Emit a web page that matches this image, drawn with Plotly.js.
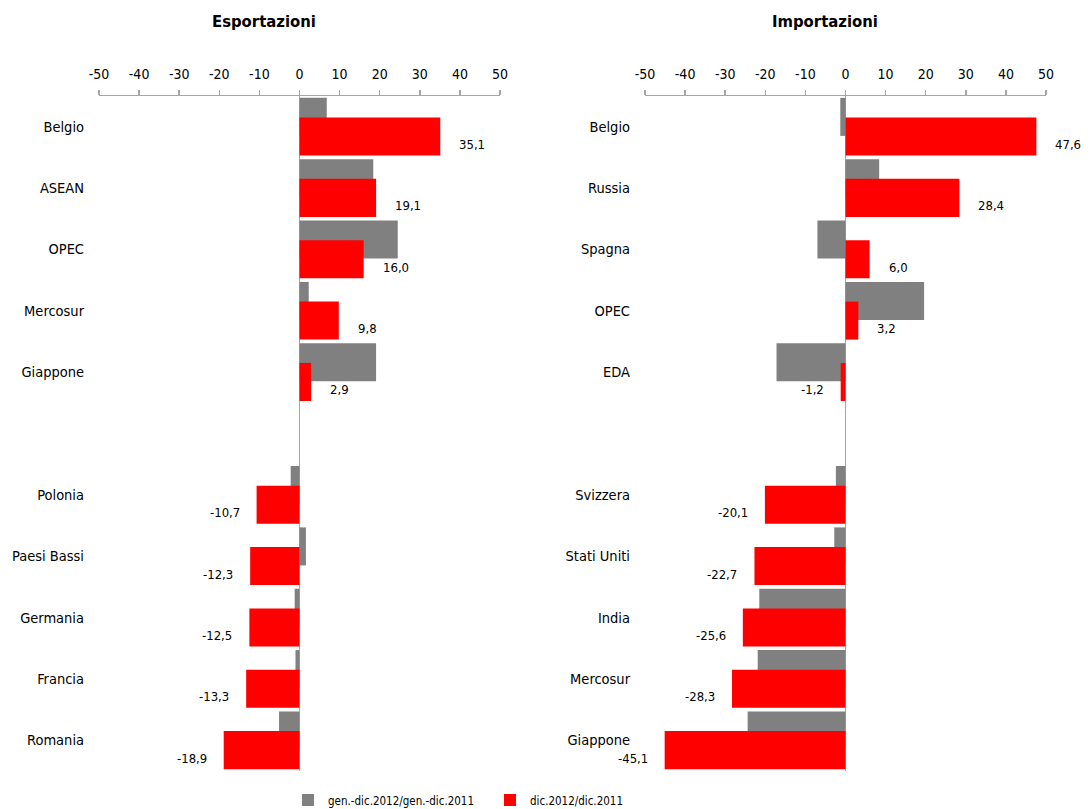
<!DOCTYPE html>
<html><head><meta charset="utf-8">
<script src="https://cdn.plot.ly/plotly-3.0.1.min.js"></script>
<style>html,body{margin:0;padding:0;background:#fff}#chart{width:1092px;height:809px}</style>
</head><body><div id="chart"></div>
<script>
// ---- data ----
const exportTop = ["Belgio", "ASEAN", "OPEC", "Mercosur", "Giappone"];
const exportBottom = ["Polonia", "Paesi Bassi", "Germania", "Francia", "Romania"];
const exportAnnual = [6.8, 18.4, 24.5, 2.3, 19.1, -2.2, 1.6, -1.2, -1.0, -5.1];
const exportDec = [35.1, 19.1, 16.0, 9.8, 2.9, -10.7, -12.3, -12.5, -13.3, -18.9];

const importTop = ["Belgio", "Russia", "Spagna", "OPEC", "EDA"];
const importBottom = ["Svizzera", "Stati Uniti", "India", "Mercosur", "Giappone"];
const importAnnual = [-1.3, 8.4, -7.0, 19.6, -17.2, -2.4, -2.8, -21.5, -21.9, -24.4];
const importDec = [47.6, 28.4, 6.0, 3.2, -1.2, -20.1, -22.7, -25.6, -28.3, -45.1];

const seriesNames = ["gen.-dic.2012/gen.-dic.2011", "dic.2012/dic.2011"];
const panelTitles = ["Esportazioni", "Importazioni"];
const xTicks = [-50, -40, -30, -20, -10, 0, 10, 20, 30, 40, 50];

// ---- build ----
const W = 1092, H = 809;
const FONT = "'Liberation Sans Narrow', 'Arial Narrow', 'DejaVu Sans Condensed', sans-serif";
const GREY = "#808080", RED = "#ff0000", AXIS = "#a6a6a6";

function slots(top, bottom) {
  // top group, one empty slot, bottom group
  return top.map((_, i) => i).concat(bottom.map((_, i) => top.length + 1 + i));
}
const fmt = v => v.toFixed(1).replace(".", ",");

const panels = [
  {top: exportTop, bottom: exportBottom, annual: exportAnnual, dec: exportDec, title: panelTitles[0],
   dom: [99 / W, 500 / W], titleX: 264 / W},
  {top: importTop, bottom: importBottom, annual: importAnnual, dec: importDec, title: panelTitles[1],
   dom: [645 / W, 1046 / W], titleX: 825 / W}
];

const traces = [];
const annotations = [];
const layout = {
  width: W, height: H,
  margin: {l: 0, r: 0, t: 0, b: 0, autoexpand: false},
  paper_bgcolor: "#fff", plot_bgcolor: "#fff",
  barmode: "overlay",
  font: {family: FONT, size: 14, color: "#000"},
  showlegend: true,
  legend: {orientation: "h", x: 288 / W, xanchor: "left", y: 1 - 800 / H, yanchor: "middle",
           font: {family: FONT, size: 11.5, color: "#000"}, entrywidth: 157, entrywidthmode: "pixels",
           bgcolor: "rgba(0,0,0,0)", traceorder: "normal", itemclick: false, itemdoubleclick: false},
  hovermode: false,
  annotations: annotations
};

panels.forEach((p, k) => {
  const xa = k === 0 ? "x" : "x2", ya = k === 0 ? "y" : "y2";
  const pos = slots(p.top, p.bottom);
  const labels = p.top.concat(p.bottom);
  traces.push({
    type: "bar", orientation: "h", x: p.annual, y: pos, xaxis: xa, yaxis: ya,
    width: 0.62, offset: -0.47, name: seriesNames[0], legendgroup: "a", showlegend: k === 0,
    marker: {color: GREY, line: {width: 0}}
  });
  traces.push({
    type: "bar", orientation: "h", x: p.dec, y: pos, xaxis: xa, yaxis: ya,
    width: 0.62, offset: -0.15, name: seriesNames[1], legendgroup: "b", showlegend: k === 0,
    marker: {color: RED, line: {width: 0}}
  });
  const xKey = k === 0 ? "xaxis" : "xaxis2", yKey = k === 0 ? "yaxis" : "yaxis2";
  layout[xKey] = {
    domain: p.dom, range: [-50, 50], side: "top", anchor: ya,
    tickmode: "array", tickvals: xTicks, ticktext: xTicks.map(String),
    showline: true, linecolor: AXIS, linewidth: 1.5,
    ticks: "outside", ticklen: 5, tickcolor: AXIS, tickwidth: 1.5,
    showgrid: false, zeroline: true, zerolinecolor: AXIS, zerolinewidth: 1.5,
    tickfont: {family: FONT, size: 14, color: "#000"}, ticklabelstandoff: 5,
    fixedrange: true, automargin: false
  };
  layout[yKey] = {
    domain: [1 - 771 / H, 1 - 96 / H], range: [pos[pos.length - 1] + 0.5, -0.5], anchor: xa,
    tickmode: "array", tickvals: pos, ticktext: labels,
    showline: false, showgrid: false, zeroline: false, ticks: "", ticklabelstandoff: 14,
    tickfont: {family: FONT, size: 14.5, color: "#000"}, fixedrange: true, automargin: false
  };
  annotations.push({
    xref: "paper", yref: "paper", x: p.titleX, y: 1 - 22 / H, xanchor: "center", yanchor: "middle",
    text: "<b>" + p.title + "</b>", showarrow: false, font: {family: FONT, size: 16.5, color: "#000"}
  });
  p.dec.forEach((v, i) => {
    annotations.push({
      xref: xa, yref: ya, x: v, y: pos[i] + 0.29, text: fmt(v), showarrow: false,
      xanchor: v >= 0 ? "left" : "right", yanchor: "middle", xshift: v >= 0 ? 17 : -15,
      font: {family: FONT, size: 13, color: "#000"}
    });
  });
});

Plotly.newPlot("chart", traces, layout, {staticPlot: true, displayModeBar: false});
</script>
</body></html>
